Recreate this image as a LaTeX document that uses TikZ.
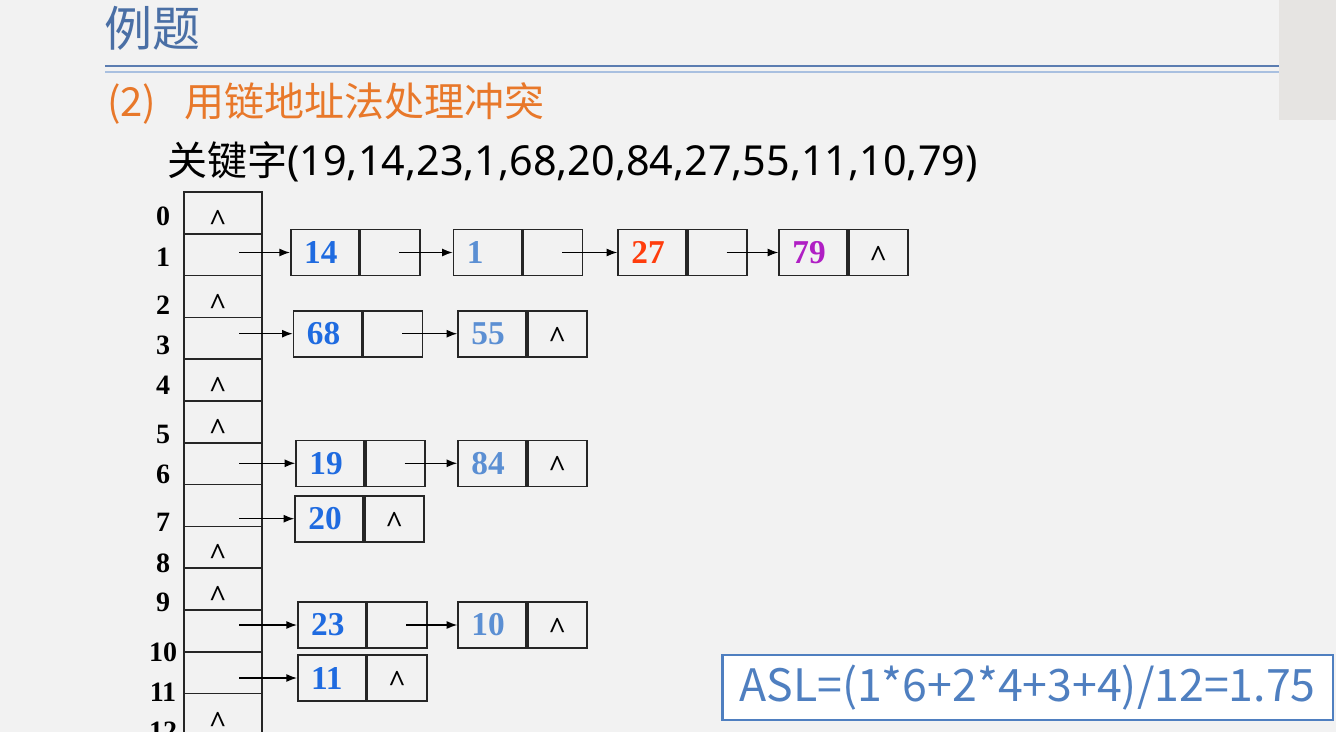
\documentclass[tikz,border=0pt]{standalone}
\usepackage{fontspec}
\setmainfont{Liberation Serif}
\newfontfamily\cjk{Noto Sans CJK SC}
\newfontfamily\latsans{Noto Sans}
\usepackage{tikz}
\usetikzlibrary{positioning,arrows.meta}
\definecolor{slidebg}{HTML}{F2F2F2}
\definecolor{cornergray}{HTML}{E6E4E2}
\definecolor{titleblue}{HTML}{4A6FA5}
\definecolor{ruledark}{HTML}{5B7DB1}
\definecolor{rulelight}{HTML}{A9C0E0}
\definecolor{partorange}{HTML}{E8782A}
\definecolor{keyblue}{HTML}{1F6BE0}
\definecolor{keysoft}{HTML}{5B8FD3}
\definecolor{keyred}{HTML}{FF3D0D}
\definecolor{keypurple}{HTML}{B01FC4}
\definecolor{aslblue}{HTML}{4F7FC0}
\tikzset{%
  every slot/.style={
    draw=black!85,
    line width=1.2pt,
    minimum width=58.5pt,
    minimum height=31.35pt,
    inner sep=0pt
  },
  key box/.style={
    draw=black!85,
    line width=1.2pt,
    minimum height=34.5pt,
    inner xsep=10pt,
    text width=31pt,
    align=left,
    anchor=west,
    font=\fontsize{25}{25}\selectfont\bfseries
  },
  link box/.style={
    draw=black!85,
    line width=1.2pt,
    minimum width=44.5pt,
    minimum height=34.5pt,
    inner sep=0pt
  },
  nil mark/.style={
    anchor=north,
    inner sep=0pt,
    font=\fontsize{23}{23}\selectfont\bfseries
  },
  row label/.style={
    inner sep=0pt,
    font=\fontsize{21}{21}\selectfont\bfseries
  },
}

\begin{document}
\begin{tikzpicture}[x=0.75pt, y=-0.75pt, >={Latex[length=8pt,width=6pt]}]

\useasboundingbox (0,0) rectangle (1336,732);
\fill[slidebg] (0,0) rectangle (1336,732);
\fill[cornergray] (1279,0) rectangle (1336,120);

% heading
\node [anchor=west, inner sep=0pt, text=titleblue, font=\cjk\fontsize{36}{36}\selectfont] (title) at (104,28) {例题};
\draw [ruledark, line width=1.8pt] (105,66) -- (1279,66);
\draw [rulelight, line width=1.5pt] (105,72) -- (1279,72);
\node [anchor=west, inner sep=0pt, text=partorange, font=\cjk\fontsize{30}{30}\selectfont] (part) at (107,103) {(2)\hspace{21pt}用链地址法处理冲突};
\node [anchor=west, inner sep=0pt, font=\cjk\fontsize{30}{30}\selectfont] (keys) at (167,162) {关键字{\latsans\fontsize{31}{31}\selectfont(19,14,23,1,68,20,84,27,55,11,10,79)}};

% hash table
\foreach \r in {0,...,12}
  \node [every slot/.try] (slot-\r) at (223,{192+41.8*\r+20.9}) {};

\foreach \l/\y in {0/216.5,1/257,2/305,3/345,4/385,5/434,6/474,7/522,8/563,9/602,10/652,11/692,12/731}
  \node [row label] (lab-\l) at (163,\y) {\l};

\foreach \r in {0,2,4,5,8,9,12}
  \node [nil mark] (null-\r) at ([xshift=-4pt,yshift=2pt]slot-\r.center) {\textasciicircum};

% chains
\foreach \k/\x/\y/\c in {14/290/252.5/keyblue, 1/452.7/252.5/keysoft, 27/617.3/252.5/keyred, 79/778.3/252.5/keypurple,
                         68/292.7/333.7/keyblue, 55/457.3/333.7/keysoft,
                         19/295.3/463.3/keyblue, 84/457.3/463.3/keysoft,
                         20/294.3/518.7/keyblue,
                         23/297/625/keyblue, 10/457.3/625/keysoft,
                         11/297/678/keyblue} {
  \node [key box, text=\c] (k\k) at (\x,\y) {\k};
  \node [link box, right=0pt of k\k] (p\k) {};
}

\foreach \k in {79,55,84,20,10,11}
  \node [nil mark] (nil-\k) at ([yshift=5pt]p\k.center) {\textasciicircum};

\foreach \r/\k in {1/14,3/68,6/19,7/20,10/23,11/11}
  \draw [->, line width=1pt] ([xshift=12pt]slot-\r.center |- k\k.west) -- (k\k.west);

\foreach \a/\b in {14/1,1/27,27/79,68/55,19/84,23/10}
  \draw [->, line width=1pt] ([xshift=7pt]p\a.center) -- (k\b.west);

% result
\node [draw=aslblue, line width=2pt, fill=white, text=aslblue, minimum width=458pt, minimum height=48.75pt,
       font=\cjk\fontsize{33.5}{34}\selectfont] (asl) at (1027.5,687.5) {ASL=(1*6+2*4+3+4)/12=1.75};

\end{tikzpicture}
\end{document}
